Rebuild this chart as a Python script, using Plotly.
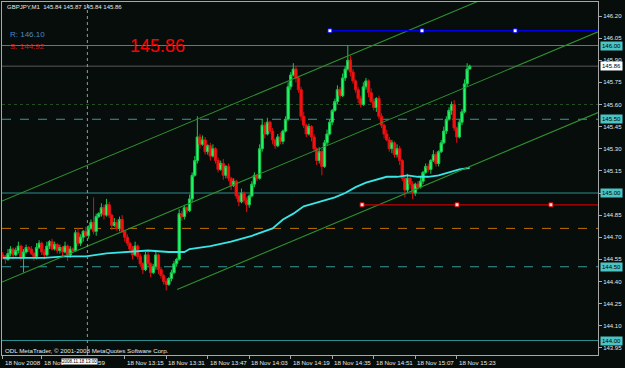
import plotly.graph_objects as go

# ---------------- data ----------------
closes = [
    144.57, 144.55, 144.59, 144.62, 144.58, 144.61, 144.64, 144.56, 144.60, 144.63,
    144.62, 144.59, 144.57, 144.63, 144.66, 144.60, 144.58, 144.64, 144.67, 144.62,
    144.65, 144.61, 144.63, 144.60, 144.64, 144.58, 144.62, 144.61, 144.73, 144.66,
    144.70, 144.74, 144.71, 144.76, 144.80, 144.74, 144.84, 144.86, 144.90, 144.85,
    144.92, 144.85, 144.78, 144.80, 144.76, 144.82, 144.74, 144.70, 144.66, 144.62,
    144.58, 144.64, 144.57, 144.52, 144.48, 144.58, 144.52, 144.46, 144.50, 144.58,
    144.48, 144.44, 144.40, 144.38, 144.42, 144.46, 144.52, 144.55, 144.86, 144.84,
    144.90, 144.88, 144.96, 145.12, 145.22, 145.38, 145.33, 145.36, 145.28, 145.32,
    145.25, 145.30, 145.22, 145.16, 145.20, 145.12, 145.18, 145.10, 145.05, 145.08,
    144.98, 144.94, 145.00, 144.95, 144.92, 144.98, 145.06, 145.12, 145.10, 145.30,
    145.46, 145.40, 145.48, 145.42, 145.36, 145.32, 145.38, 145.35, 145.42, 145.50,
    145.72, 145.80, 145.84, 145.78, 145.70, 145.52, 145.46, 145.40, 145.45, 145.38,
    145.30, 145.22, 145.28, 145.18, 145.34, 145.40, 145.48, 145.56, 145.62, 145.70,
    145.66, 145.78, 145.84, 145.90, 145.82, 145.76, 145.70, 145.64, 145.60, 145.72,
    145.76, 145.68, 145.62, 145.58, 145.64, 145.52, 145.46, 145.40, 145.36, 145.30,
    145.34, 145.26, 145.30, 145.22, 145.10, 145.02, 145.10, 145.06, 145.00, 145.06,
    145.04, 145.08, 145.14, 145.18, 145.16, 145.22, 145.26, 145.20, 145.28, 145.34,
    145.42, 145.50, 145.56, 145.60, 145.44, 145.38, 145.48, 145.55, 145.74, 145.84,
    145.86,
]
first_open = 144.58
# wick lengths in pips (0.01)
upper_wick = [
    2, 1, 3, 2, 1, 2, 3, 1, 2, 2,   1, 2, 1, 3, 2, 1, 2, 3, 1, 2,
    2, 1, 2, 1, 3, 1, 2, 1, 2, 3,   2, 1, 3, 2, 2, 17, 2, 1, 3, 2,
    4, 2, 1, 3, 2, 2, 3, 1, 2, 1,   2, 3, 1, 2, 1, 2, 3, 1, 2, 2,
    1, 2, 1, 2, 1, 2, 2, 1, 3, 2,   2, 1, 3, 2, 3, 14, 2, 3, 2, 1,
    2, 3, 1, 2, 2, 3, 1, 2, 1, 2,   1, 2, 3, 1, 2, 1, 2, 2, 1, 3,
    4, 2, 3, 1, 2, 1, 2, 3, 1, 2,   3, 2, 4, 2, 1, 2, 3, 1, 2, 1,
    2, 1, 3, 2, 2, 3, 2, 1, 2, 3,   2, 3, 2, 10, 3, 2, 1, 2, 2, 3,
    2, 1, 3, 2, 1, 2, 2, 1, 3, 2,   2, 1, 3, 2, 1, 2, 3, 1, 2, 1,
    2, 3, 1, 2, 2, 1, 3, 2, 1, 2,   3, 2, 2, 2, 3, 1, 2, 2, 3, 4,
    1,
]
lower_wick = [
    2, 3, 1, 2, 3, 1, 2, 2, 10, 1,  2, 1, 3, 2, 1, 2, 3, 1, 2, 1,
    1, 2, 2, 3, 1, 4, 2, 1, 1, 2,   2, 3, 1, 2, 1, 2, 3, 1, 2, 3,
    1, 2, 3, 1, 2, 2, 1, 3, 2, 2,   3, 1, 2, 2, 3, 1, 2, 3, 1, 2,
    3, 2, 2, 4, 1, 2, 1, 2, 1, 3,   2, 2, 1, 2, 1, 2, 3, 1, 2, 2,
    3, 1, 2, 2, 1, 3, 2, 2, 3, 1,   2, 3, 1, 2, 5, 2, 1, 2, 2, 1,
    2, 3, 1, 2, 3, 2, 1, 2, 2, 1,   1, 2, 1, 3, 2, 3, 2, 2, 1, 3,
    2, 3, 2, 6, 1, 2, 1, 2, 1, 2,   2, 1, 2, 1, 3, 2, 2, 3, 2, 1,
    2, 3, 1, 2, 3, 2, 2, 3, 1, 2,   3, 2, 2, 3, 2, 5, 2, 3, 4, 2,
    2, 1, 2, 1, 2, 3, 1, 2, 2, 1,   1, 2, 1, 3, 2, 4, 1, 2, 1, 2,
    0,
]

# moving average (cyan) read at bar indices
ma_x = [0, 8, 16, 24, 32, 40, 48, 56, 64, 70, 72, 76, 80, 88, 96, 104, 108, 112,
        116, 120, 124, 128, 132, 136, 140, 144, 148, 152, 156, 160, 164, 168, 172, 176, 180]
ma_y = [144.56, 144.56, 144.56, 144.57, 144.57, 144.59, 144.60, 144.61, 144.60, 144.60,
        144.62, 144.63, 144.64, 144.67, 144.71, 144.76, 144.82, 144.86, 144.91, 144.93,
        144.95, 144.97, 145.00, 145.04, 145.07, 145.09, 145.11, 145.11, 145.12, 145.11,
        145.11, 145.12, 145.14, 145.16, 145.17]

# equidistant channel (anchor points: bar index, price)
chan_upper_x = [-0.3, 200.0]
chan_upper_y = [144.945, 146.424]
chan_mid_x = [-0.3, 229.45]
chan_mid_y = [144.396, 146.093]
chan_low_x = [67.2, 229.45]
chan_low_y = [144.346, 145.545]

# resistance / support objects
r_price = 146.10
r_points = [126.1, 161.6, 197.5]
s_price = 144.92
s_points = [138.5, 175.1, 211.3]

# horizontal levels
level_prices = [146.00, 145.86, 145.60, 145.50, 145.00, 144.76, 144.50, 144.00]
level_colors = ['#2a8f8f', '#5a5a5a', '#244f24', '#3a9a9a', '#2a8f8f', '#c07000', '#3a9a9a', '#2a8f8f']
level_dash = ['solid', 'solid', 'dot', 'dash', 'solid', 'dash', 'dash', 'solid']

boxed_prices = [146.00, 145.86, 145.50, 145.00, 144.50, 144.00]
boxed_colors = ['#4cc4c4', '#ffffff', '#4cc4c4', '#4cc4c4', '#4cc4c4', '#4cc4c4']

y_ticks = [146.20, 146.05, 145.90, 145.75, 145.60, 145.45, 145.30, 145.15,
           145.00, 144.85, 144.70, 144.55, 144.40, 144.25, 144.10, 143.95]

x_tick_bars = [0, 15, 47, 63, 79, 95, 111, 127, 143, 159, 175]
x_tick_text = ['18 Nov 2008', '18 Nov', '18 Nov 13:15', '18 Nov 13:31', '18 Nov 13:47',
               '18 Nov 14:03', '18 Nov 14:19', '18 Nov 14:35', '18 Nov 14:51', '18 Nov 15:07',
               '18 Nov 15:23']
cross_bar = 32.6
cross_text = '2008.11.18 13:00'
cross_tail_text = '59'

title_text = 'GBPJPY,M1  145.84 145.87 145.84 145.86'
bid_text = '145.86'

# ---------------- derived ----------------
bars = list(range(len(closes)))
opens = [first_open] + closes[:-1]
highs = [max(o, c) + w / 100 for o, c, w in zip(opens, closes, upper_wick)]
lows = [min(o, c) - w / 100 for o, c, w in zip(opens, closes, lower_wick)]

FONT = 'Liberation Sans, Arial, sans-serif'
BG = '#060d0b'
FRAME = '#a8a8a8'

# plot area in pixels: x 2..598, y 2..355
def ypaper(pix):
    return (355 - pix) / 353.0

def xpaper(pix):
    return (pix - 2) / 596.0

fig = go.Figure()

fig.add_trace(go.Candlestick(
    x=bars, open=opens, high=highs, low=lows, close=closes,
    increasing=dict(line=dict(color='#18c84e', width=1), fillcolor='#22ff66'),
    decreasing=dict(line=dict(color='#e01010', width=1), fillcolor='#ff1010'),
    whiskerwidth=0, hoverinfo='skip', showlegend=False,
))

fig.add_trace(go.Scatter(x=ma_x, y=ma_y, mode='lines',
                         line=dict(color='#38e6e6', width=1.8), hoverinfo='skip', showlegend=False))

for cx, cy in [(chan_upper_x, chan_upper_y), (chan_mid_x, chan_mid_y), (chan_low_x, chan_low_y)]:
    fig.add_trace(go.Scatter(x=cx, y=cy, mode='lines', line=dict(color='#2f8f2f', width=1.1),
                             hoverinfo='skip', showlegend=False))

x_right = 229.45
fig.add_trace(go.Scatter(x=[r_points[0], x_right], y=[r_price, r_price], mode='lines',
                         line=dict(color='#0000e0', width=1.3), hoverinfo='skip', showlegend=False))
fig.add_trace(go.Scatter(x=r_points, y=[r_price] * len(r_points), mode='markers',
                         marker=dict(symbol='square', size=4, color='#ffffff',
                                     line=dict(color='#0000e0', width=1)),
                         hoverinfo='skip', showlegend=False, cliponaxis=False))
fig.add_trace(go.Scatter(x=[s_points[0], x_right], y=[s_price, s_price], mode='lines',
                         line=dict(color='#c80000', width=1.3), hoverinfo='skip', showlegend=False))
fig.add_trace(go.Scatter(x=s_points, y=[s_price] * len(s_points), mode='markers',
                         marker=dict(symbol='square', size=4, color='#ffdddd',
                                     line=dict(color='#c80000', width=1)),
                         hoverinfo='skip', showlegend=False, cliponaxis=False))

shapes = []
for p, c, d in zip(level_prices, level_colors, level_dash):
    shapes.append(dict(type='line', xref='paper', x0=0, x1=1, yref='y', y0=p, y1=p,
                       line=dict(color=c, width=1, dash=d), layer='below'))
shapes.append(dict(type='line', xref='x', x0=cross_bar, x1=cross_bar, yref='paper', y0=0, y1=1,
                   line=dict(color='#9a9a9a', width=1, dash='dot'), layer='above'))

annotations = []
annotations.append(dict(text=title_text, xref='paper', yref='paper', x=xpaper(5), y=ypaper(7),
                        xanchor='left', yanchor='middle', showarrow=False,
                        font=dict(family=FONT, size=6, color='#e8e8e8')))
annotations.append(dict(text='R: %.2f' % r_price, xref='paper', yref='paper', x=xpaper(8), y=ypaper(34),
                        xanchor='left', yanchor='middle', showarrow=False,
                        font=dict(family=FONT, size=8, color='#4f86c6')))
annotations.append(dict(text='S: %.2f' % s_price, xref='paper', yref='paper', x=xpaper(8), y=ypaper(46.5),
                        xanchor='left', yanchor='middle', showarrow=False,
                        font=dict(family=FONT, size=8, color='#c81e1e')))
annotations.append(dict(text=bid_text, xref='paper', yref='paper', x=xpaper(157), y=ypaper(45.5),
                        xanchor='center', yanchor='middle', showarrow=False,
                        font=dict(family=FONT, size=18, color='#ff0000')))
annotations.append(dict(text='ODL MetaTrader, © 2001-2008 MetaQuotes Software Corp.', xref='paper',
                        yref='paper', x=xpaper(3), y=ypaper(350), xanchor='left', yanchor='middle',
                        showarrow=False, font=dict(family=FONT, size=6.2, color='#e8e8e8')))
for b, t in zip(x_tick_bars, x_tick_text):
    annotations.append(dict(text=t, xref='x', yref='paper', x=b, y=ypaper(362), xanchor='left',
                            yanchor='middle', showarrow=False,
                            font=dict(family=FONT, size=6.2, color='#e8e8e8')))
annotations.append(dict(text=cross_text, xref='paper', yref='paper', x=xpaper(61), y=ypaper(361.5),
                        xanchor='left', yanchor='middle', showarrow=False, bgcolor='#ffffff',
                        borderpad=0, font=dict(family=FONT, size=4.5, color='#000000')))
annotations.append(dict(text=cross_tail_text, xref='paper', yref='paper', x=xpaper(96), y=ypaper(362),
                        xanchor='left', yanchor='middle', showarrow=False,
                        font=dict(family=FONT, size=6.2, color='#e8e8e8')))
for p, c in zip(boxed_prices, boxed_colors):
    annotations.append(dict(text='%.2f' % p, xref='paper', yref='y', x=xpaper(600), y=p,
                            xanchor='left', yanchor='middle', showarrow=False, bgcolor=c,
                            borderpad=1, font=dict(family=FONT, size=6, color='#000000')))

fig.update_layout(
    width=625, height=368,
    margin=dict(l=2, r=27, t=2, b=13),
    paper_bgcolor=BG, plot_bgcolor=BG,
    showlegend=False,
    boxgap=0.05, boxgroupgap=0.05,
    shapes=shapes, annotations=annotations,
    xaxis=dict(range=[-0.31, x_right], showgrid=False, zeroline=False, showline=True, mirror=True,
               linecolor=FRAME, linewidth=1, ticks='outside', ticklen=3, tickcolor=FRAME,
               tickvals=x_tick_bars, showticklabels=False, rangeslider=dict(visible=False),
               fixedrange=True),
    yaxis=dict(range=[143.9017, 146.2949], side='right', showgrid=False, zeroline=False,
               showline=True, mirror=True, linecolor=FRAME, linewidth=1, ticks='outside',
               ticklen=3, tickcolor=FRAME, tickvals=y_ticks, ticktext=['%.2f' % v for v in y_ticks],
               tickfont=dict(family=FONT, size=6, color='#e8e8e8'), fixedrange=True),
)

fig.write_html('out.html')
